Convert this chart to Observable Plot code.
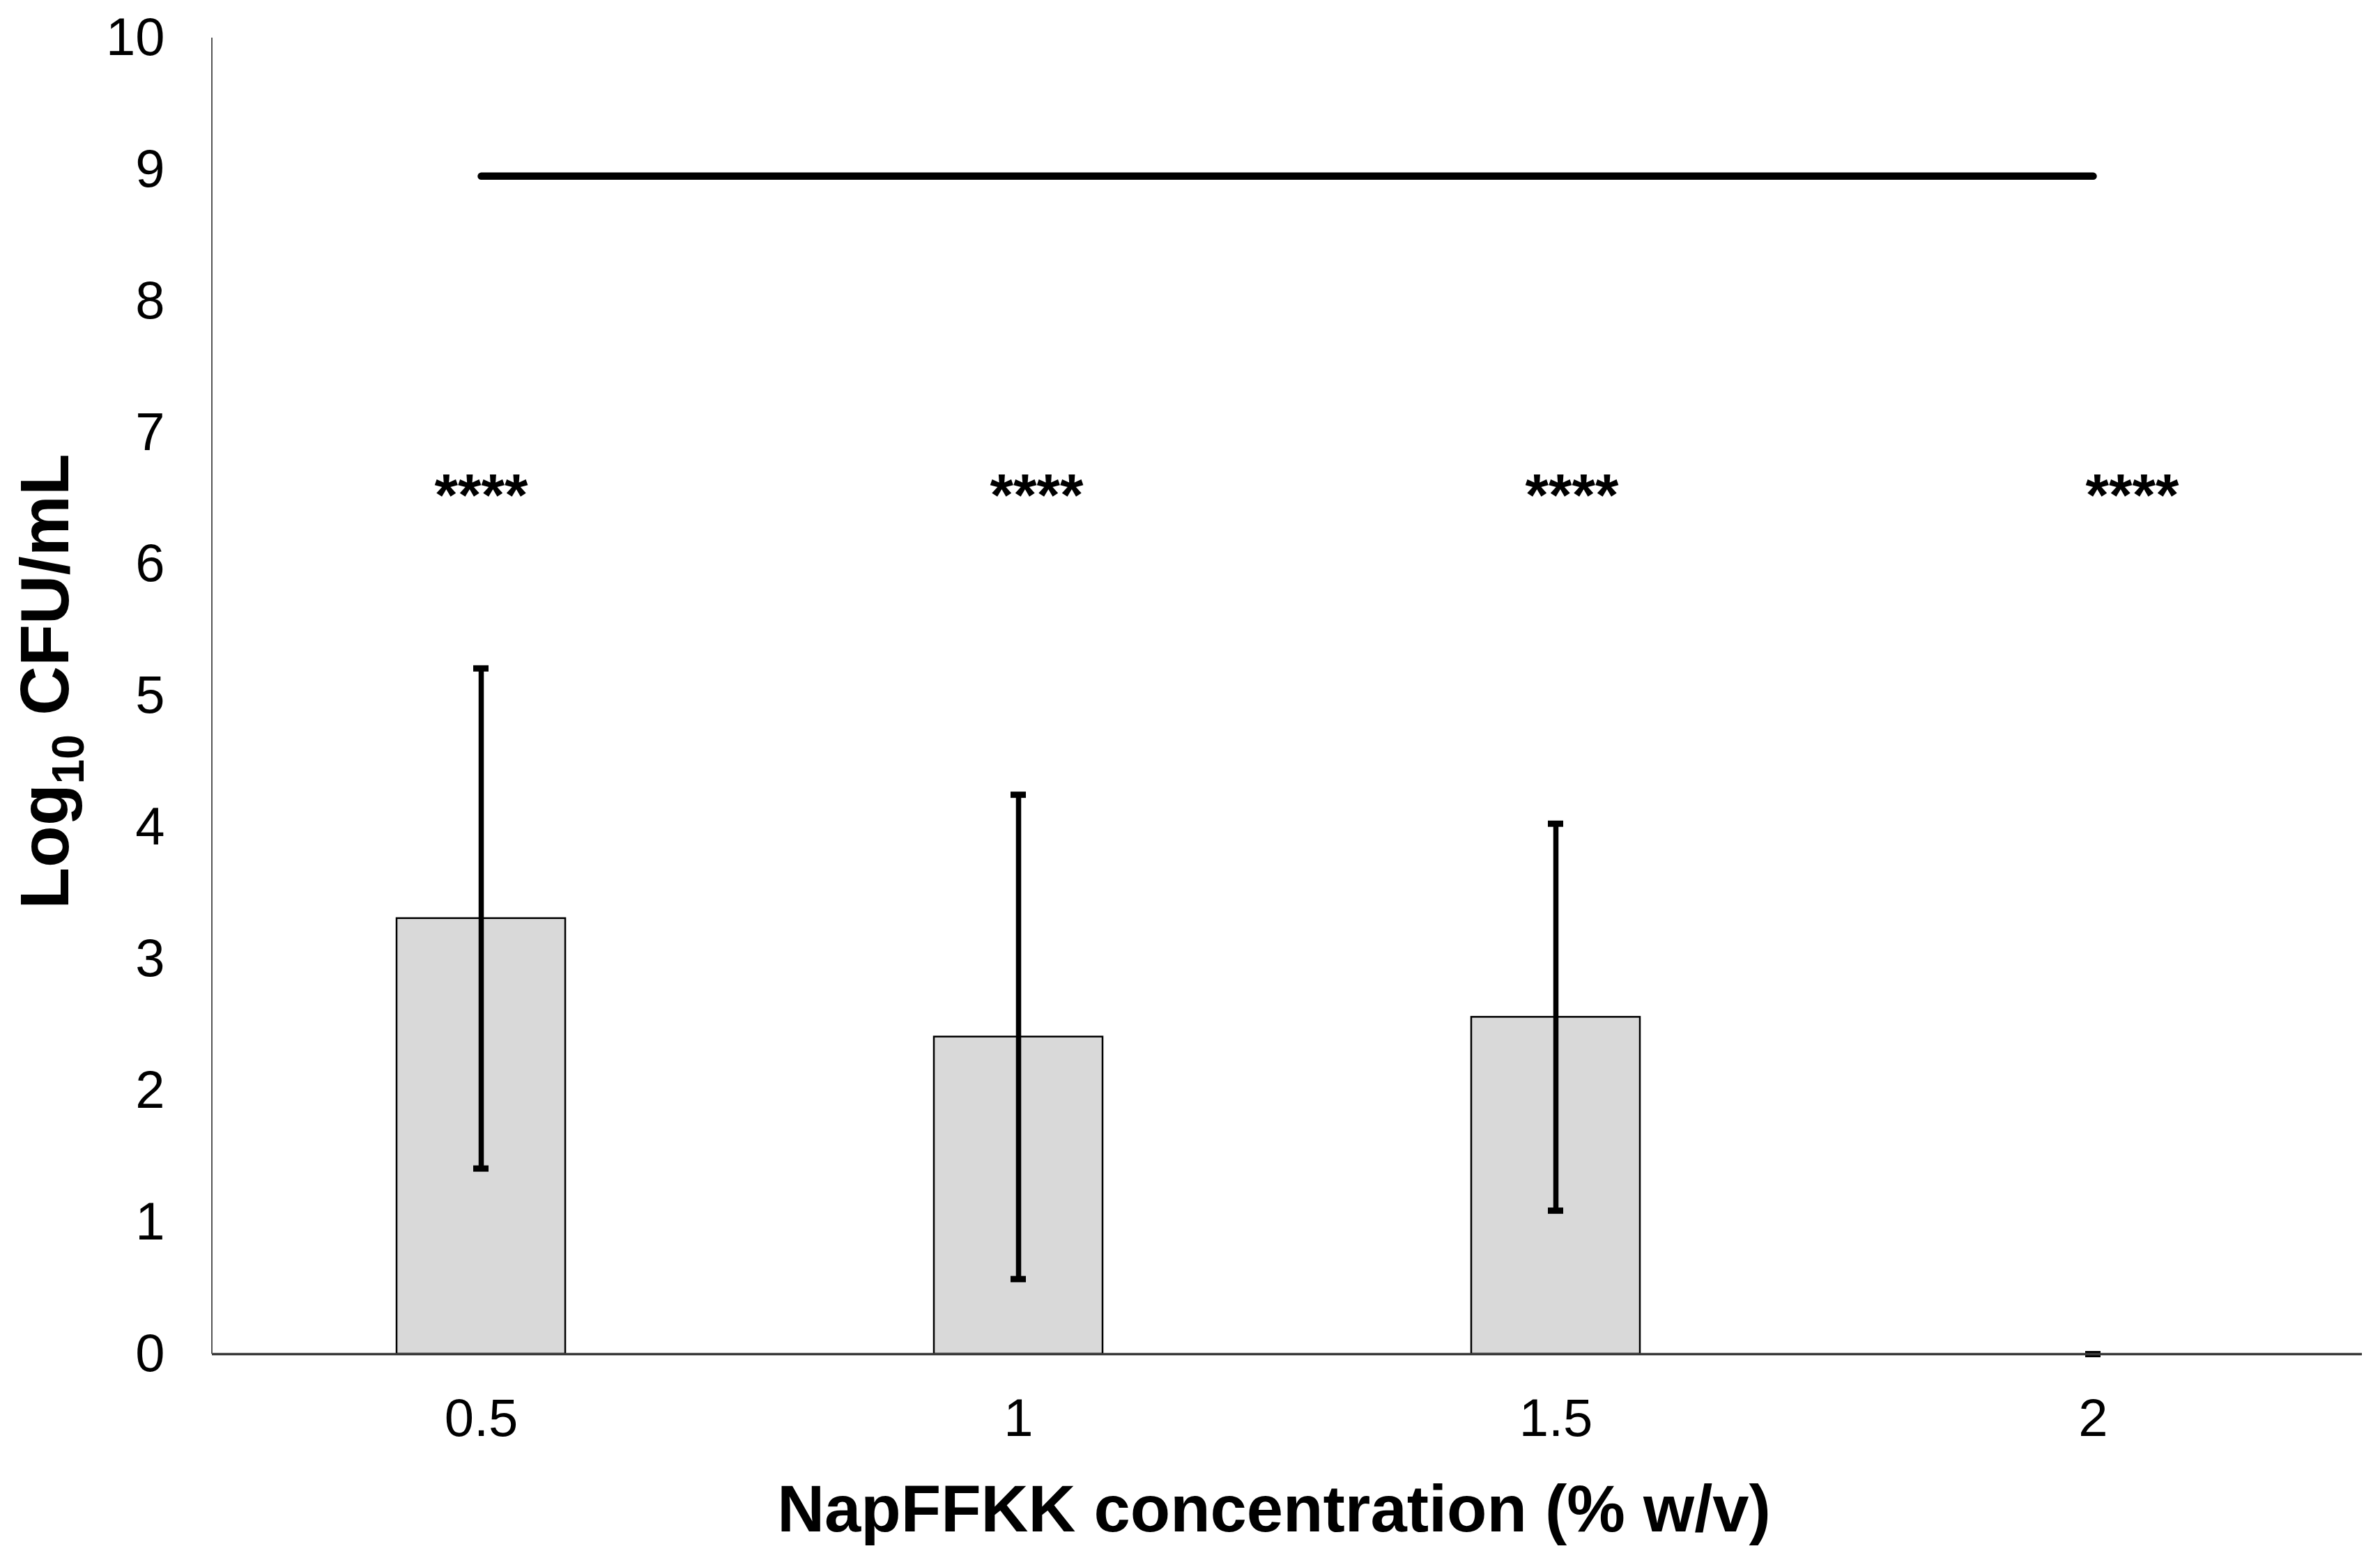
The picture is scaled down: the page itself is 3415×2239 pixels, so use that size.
<!DOCTYPE html>
<html><head><meta charset="utf-8">
<script src="https://cdn.jsdelivr.net/npm/d3@7"></script>
<script src="https://cdn.jsdelivr.net/npm/@observablehq/plot@0.6"></script>
<style>html,body{margin:0;padding:0;background:#fff;overflow:hidden}</style>
</head><body><div id="chart"></div>
<script>
// ---- data ----
const concentrations = ["0.5", "1", "1.5", "2"];
const meanLogCFU = [3.31, 2.41, 2.56, 0];
const errLogCFU = [1.90, 1.84, 1.47, 0];
const significance = ["****", "****", "****", "****"];
const yTicks = [0, 1, 2, 3, 4, 5, 6, 7, 8, 9, 10];
const controlLevel = [8.95, 8.95];
const controlSpan = ["0.5", "2"];
const starLevel = 6.37;
const xTitle = "NapFFKK concentration (% w/v)";

// ---- layout/style constants ----
const W = 3415, H = 2239;
const M = {top: 54, right: 26, bottom: 296, left: 304};
const starNudge = [0, 26, 23, 56];
const FONT = "'Liberation Sans', Arial, sans-serif";

const rows = concentrations.map((c, i) => ({
  conc: c, mean: meanLogCFU[i], err: errLogCFU[i],
  lo: meanLogCFU[i] - errLogCFU[i], hi: meanLogCFU[i] + errLogCFU[i],
  sig: significance[i]
}));
const control = controlSpan.map((c, i) => ({conc: c, y: controlLevel[i]}));

const marks = [
  Plot.barY(rows, {filter: d => d.mean > 0, x: "conc", y: "mean", fill: "#d9d9d9", stroke: "#000", strokeWidth: 2.5}),
  Plot.ruleX(rows, {x: "conc", y1: "lo", y2: "hi", stroke: "#000", strokeWidth: 7.5}),
  Plot.tickY(rows, {x: "conc", y: "lo", stroke: "#000", strokeWidth: 9, insetLeft: 110, insetRight: 110}),
  Plot.tickY(rows, {x: "conc", y: "hi", stroke: "#000", strokeWidth: 9, insetLeft: 110, insetRight: 110}),
  Plot.ruleY([0], {stroke: "#3a3a3a", strokeWidth: 3.5}),
  Plot.line(control, {x: "conc", y: "y", stroke: "#000", strokeWidth: 10.5}),
  Plot.axisX({tickSize: 0, tickPadding: 64, fontSize: 76, label: null}),
  Plot.axisY({ticks: yTicks, tickSize: 0, tickPadding: 68, fontSize: 76, label: null})
];
rows.forEach((r, k) => {
  marks.push(Plot.text(rows, {filter: (d, i) => i === k, x: "conc", y: () => starLevel, text: "sig",
    fontSize: 86, fontWeight: "bold", lineAnchor: "bottom", dx: starNudge[k], fill: "#000"}));
});

const chart = Plot.plot({
  width: W, height: H,
  marginTop: M.top, marginRight: M.right, marginBottom: M.bottom, marginLeft: M.left,
  style: {fontFamily: FONT, color: "#000", background: "#fff", overflow: "visible"},
  x: {type: "band", domain: concentrations, paddingInner: 0.686, paddingOuter: 0.343, axis: null},
  y: {domain: [0, 10], axis: null},
  marks
});

const svg = d3.select(chart);
const ys = chart.scale("y");
// y axis line
svg.append("line")
  .attr("x1", M.left).attr("x2", M.left)
  .attr("y1", ys.apply(0)).attr("y2", ys.apply(10))
  .attr("stroke", "#555").attr("stroke-width", 2);

// x title
svg.append("text")
  .attr("x", 1828).attr("y", 2198)
  .attr("text-anchor", "middle")
  .attr("font-family", FONT).attr("font-weight", "bold").attr("font-size", 94)
  .attr("fill", "#000")
  .text(xTitle);

// y title with subscript
const yt = svg.append("text")
  .attr("transform", "translate(98,978) rotate(-90)")
  .attr("text-anchor", "middle")
  .attr("font-family", FONT).attr("font-weight", "bold").attr("font-size", 98)
  .attr("fill", "#000");
yt.append("tspan").text("Log");
yt.append("tspan").attr("font-size", 64).attr("dy", 22).text("10");
yt.append("tspan").attr("dy", -22).text(" CFU/mL");

document.getElementById("chart").appendChild(chart);
</script>
</body></html>
